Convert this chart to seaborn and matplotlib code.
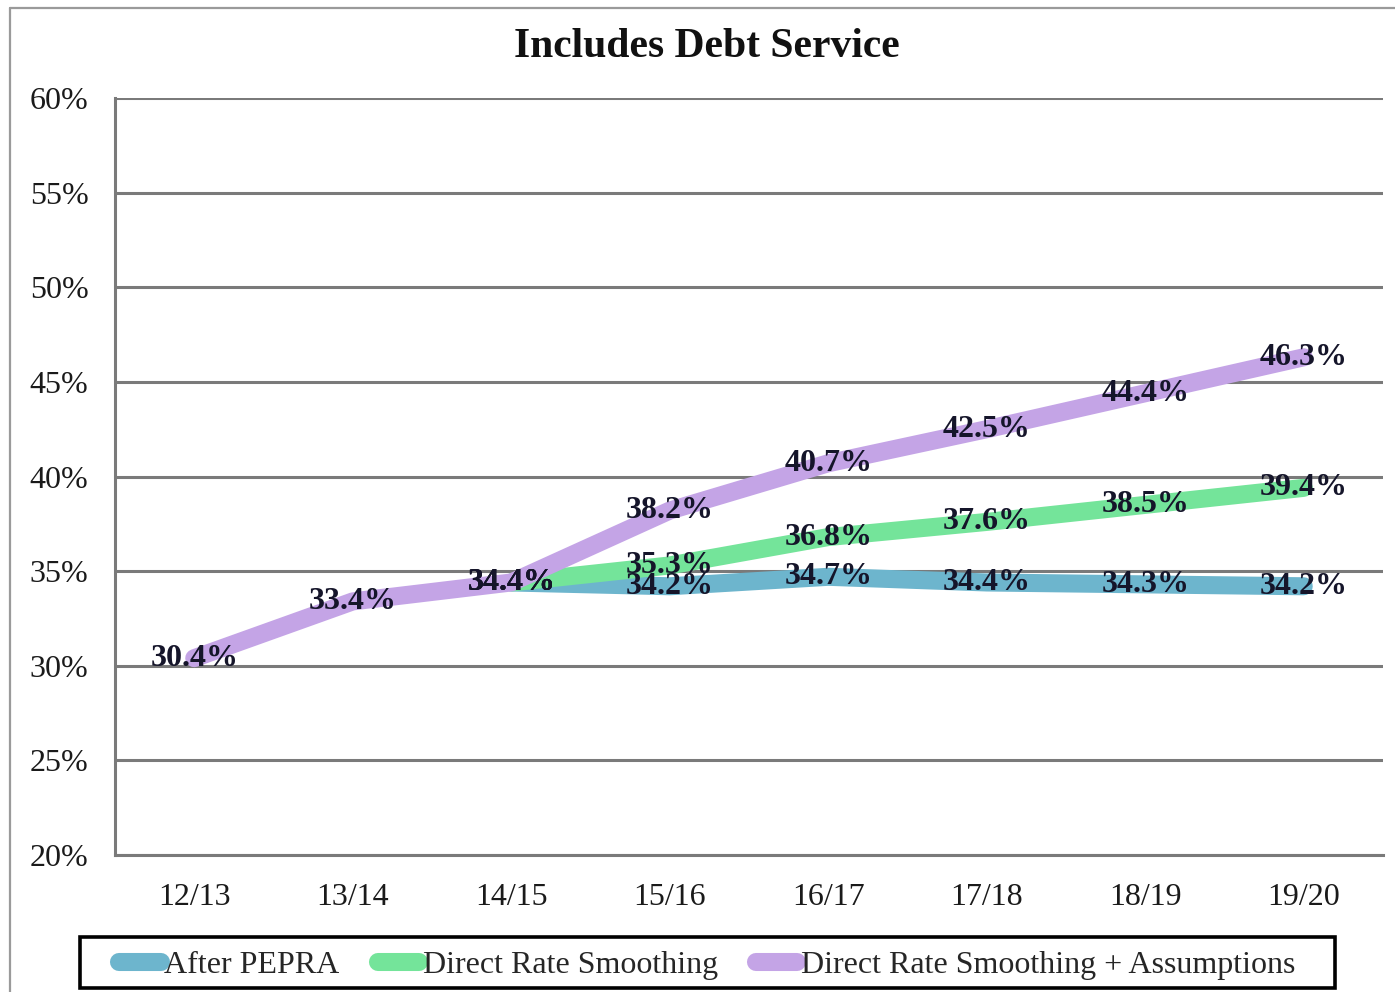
import numpy as np
import pandas as pd
import matplotlib
matplotlib.use("Agg")
import matplotlib.pyplot as plt
from matplotlib.lines import Line2D
from matplotlib.patches import Rectangle
import seaborn as sns

# Fiscal years on the x axis
periods = ["12/13", "13/14", "14/15", "15/16", "16/17", "17/18", "18/19", "19/20"]

# Contribution rate (% of payroll), including debt service
after_pepra = [np.nan, np.nan, 34.4, 34.2, 34.7, 34.4, 34.3, 34.2]
direct_rate_smoothing = [np.nan, np.nan, 34.4, 35.3, 36.8, 37.6, 38.5, 39.4]
smoothing_plus_assumptions = [30.4, 33.4, 34.4, 38.2, 40.7, 42.5, 44.4, 46.3]

series_names = ["After PEPRA", "Direct Rate Smoothing",
                "Direct Rate Smoothing + Assumptions"]
series_colors = ["#6db5cd", "#74e49a", "#c4a4e6"]

y_ticks = [20, 25, 30, 35, 40, 45, 50, 55, 60]
y_tick_labels = ["20%", "25%", "30%", "35%", "40%", "45%", "50%", "55%", "60%"]

title = "Includes Debt Service"

# Long-form table
frames = []
for name, vals in zip(series_names,
                      [after_pepra, direct_rate_smoothing, smoothing_plus_assumptions]):
    frames.append(pd.DataFrame({"period": periods, "rate": vals, "series": name}))
df = pd.concat(frames, ignore_index=True).dropna()
df["pos"] = df["period"].map({p: i for i, p in enumerate(periods)})

sns.set_theme(style="white")
plt.rcParams["font.family"] = ["Liberation Serif", "DejaVu Serif"]

fig = plt.figure(figsize=(13.95, 9.92), dpi=100)
ax = fig.add_axes([115 / 1395, 1 - 855 / 992, (1383 - 115) / 1395, (855 - 98) / 992])

grid_color = "#7a7a7a"

sns.lineplot(data=df, x="pos", y="rate", hue="series", hue_order=series_names,
             palette=series_colors, linewidth=13, solid_capstyle="round",
             solid_joinstyle="round", legend=False, ax=ax, zorder=3,
             estimator=None, sort=True)

# Value labels centred on each point
for name in series_names:
    sub = df[df["series"] == name]
    for _, row in sub.iterrows():
        ax.text(row["pos"], row["rate"], f"{row['rate']:.1f}%", ha="center",
                va="center", fontsize=23, fontweight="bold", color="#15152a",
                zorder=5)

ax.set_xlim(-0.5, len(periods) - 0.5)
ax.set_ylim(20, 60)
ax.set_yticks(y_ticks)
ax.set_yticklabels(y_tick_labels)
ax.set_xticks(range(len(periods)))
ax.set_xticklabels(periods)
ax.set_xticks(np.arange(-0.5, len(periods), 1.0), minor=True)
ax.tick_params(axis="x", which="major", length=0, pad=20, labelsize=23,
               labelcolor="#1a1a1a")
ax.tick_params(axis="x", which="minor", length=8, width=2, color=grid_color,
               direction="out")
ax.tick_params(axis="y", which="major", length=0, pad=19, labelsize=23,
               labelcolor="#1a1a1a")
ax.set_xlabel("")
ax.set_ylabel("")

ax.yaxis.grid(True, color=grid_color, linewidth=2.2, zorder=1)
ax.set_axisbelow(True)
for side in ["top", "right"]:
    ax.spines[side].set_visible(False)
for side in ["left", "bottom"]:
    ax.spines[side].set_color(grid_color)
    ax.spines[side].set_linewidth(2.2)

fig.text(0.507, 1 - 47 / 992, title, ha="center", va="center", fontsize=30,
         fontweight="bold", color="#111111")

# Outer chart frame
fig.add_artist(Line2D([10 / 1395, 10 / 1395], [0, 1 - 8 / 992],
                      transform=fig.transFigure, color="#9a9a9a", linewidth=1.6))
fig.add_artist(Line2D([10 / 1395, 1], [1 - 8 / 992, 1 - 8 / 992],
                      transform=fig.transFigure, color="#9a9a9a", linewidth=1.6))

handles = [Line2D([0], [0], color=c, linewidth=13, solid_capstyle="round")
           for c in series_colors]
leg = fig.legend(handles, series_names, loc="center",
                 bbox_to_anchor=(0.507, 1 - 965 / 992), ncol=3, fontsize=23,
                 frameon=False, handlelength=1.3,
                 handletextpad=0.1, columnspacing=1.2, borderpad=0.25)

# Legend box, wider than the entries
box_left, box_right = 80 / 1395, 1335 / 1395
box_bottom, box_top = 1 - 988 / 992, 1 - 937 / 992
fig.add_artist(Rectangle((box_left, box_bottom), box_right - box_left,
                         box_top - box_bottom, transform=fig.transFigure,
                         fill=False, edgecolor="#000000", linewidth=2.6))

fig.savefig("out.png", dpi=100, facecolor="white")
